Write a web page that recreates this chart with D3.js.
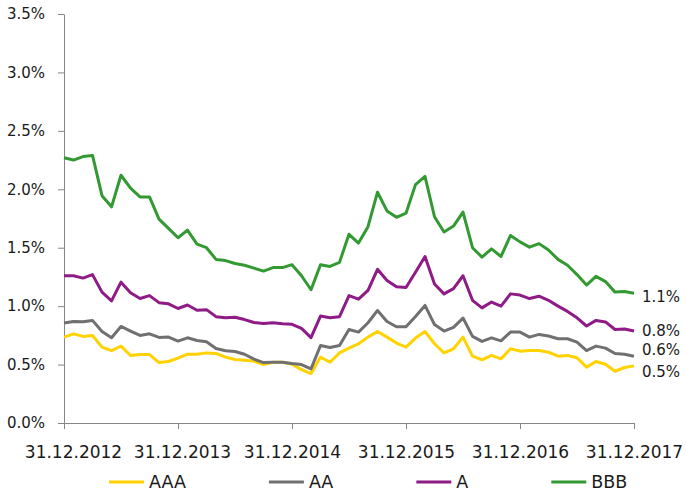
<!DOCTYPE html>
<html>
<head>
<meta charset="utf-8">
<script src="https://cdn.jsdelivr.net/npm/d3@7"></script>
<style>
  body { margin: 0; background: #fff; }
  text { font-family: "DejaVu Sans", Verdana, sans-serif; fill: #1a1a1a; }
</style>
</head>
<body>
<div id="chart"></div>
<script>
// monthly values, 31.12.2012 .. 31.12.2017 (61 points), in %
var seriesNames = ["AAA", "AA", "A", "BBB"];
var seriesColors = ["#ffd200", "#707070", "#8e1b86", "#339933"];

var aaa = [0.735, 0.763, 0.741, 0.749, 0.649, 0.62, 0.658, 0.578, 0.586, 0.586, 0.517, 0.526, 0.555,
  0.589, 0.589, 0.60, 0.595, 0.564, 0.543, 0.536, 0.53, 0.50, 0.52, 0.52, 0.503,
  0.457, 0.423, 0.564, 0.52, 0.60, 0.641, 0.678, 0.735, 0.783, 0.735, 0.684, 0.649,
  0.727, 0.783, 0.678, 0.60, 0.635, 0.735, 0.572, 0.54, 0.578, 0.549, 0.635, 0.615,
  0.62, 0.62, 0.606, 0.572, 0.578, 0.558, 0.478, 0.526, 0.503, 0.443, 0.475, 0.489];

var aa = [0.855, 0.869, 0.866, 0.878, 0.783, 0.729, 0.826, 0.787, 0.749, 0.763, 0.732, 0.735, 0.701,
  0.729, 0.706, 0.695, 0.638, 0.618, 0.612, 0.588, 0.546, 0.517, 0.52, 0.52, 0.509,
  0.50, 0.463, 0.663, 0.646, 0.663, 0.80, 0.778, 0.858, 0.963, 0.869, 0.824, 0.824,
  0.912, 1.006, 0.842, 0.787, 0.818, 0.898, 0.741, 0.698, 0.729, 0.703, 0.778, 0.778,
  0.735, 0.758, 0.744, 0.721, 0.721, 0.692, 0.62, 0.658, 0.641, 0.595, 0.589, 0.572];

var a = [1.26, 1.26, 1.24, 1.27, 1.12, 1.045, 1.205, 1.115, 1.065, 1.09, 1.03, 1.02, 0.98,
  1.01, 0.965, 0.97, 0.91, 0.90, 0.905, 0.885, 0.86, 0.852, 0.858, 0.85, 0.845,
  0.81, 0.73, 0.915, 0.90, 0.91, 1.09, 1.06, 1.135, 1.315, 1.22, 1.165, 1.16,
  1.29, 1.425, 1.19, 1.105, 1.15, 1.26, 1.05, 0.985, 1.035, 1.0, 1.105, 1.095,
  1.065, 1.085, 1.05, 1.0, 0.955, 0.90, 0.83, 0.878, 0.865, 0.80, 0.805, 0.787];

var bbb = [2.27, 2.25, 2.28, 2.29, 1.945, 1.85, 2.12, 2.01, 1.935, 1.935, 1.745, 1.665, 1.585,
  1.65, 1.53, 1.50, 1.40, 1.39, 1.365, 1.35, 1.325, 1.30, 1.33, 1.33, 1.355,
  1.26, 1.14, 1.355, 1.34, 1.375, 1.615, 1.54, 1.68, 1.975, 1.815, 1.76, 1.795,
  2.04, 2.11, 1.765, 1.635, 1.685, 1.805, 1.50, 1.42, 1.49, 1.425, 1.605, 1.55,
  1.505, 1.535, 1.48, 1.40, 1.35, 1.27, 1.18, 1.255, 1.21, 1.12, 1.125, 1.11];

var allSeries = [aaa, aa, a, bbb];

var xTickIndex = [0, 12, 24, 36, 48, 60];
var xTickLabels = ["31.12.2012", "31.12.2013", "31.12.2014", "31.12.2015", "31.12.2016", "31.12.2017"];
var yTicks = [0, 0.5, 1.0, 1.5, 2.0, 2.5, 3.0, 3.5];
var endLabels = ["0.5%", "0.6%", "0.8%", "1.1%"];

// Set up the SVG area
var svgWidth = 686;
var svgHeight = 495;
var margin = { top: 14, right: 52, bottom: 72, left: 64 };
var chartWidth = svgWidth - margin.left - margin.right;
var chartHeight = svgHeight - margin.top - margin.bottom;

var svg = d3.select("#chart")
  .append("svg")
  .attr("width", svgWidth)
  .attr("height", svgHeight);

var chartGroup = svg.append("g")
  .attr("transform", `translate(${margin.left}, ${margin.top})`);

var xScale = d3.scaleLinear().domain([0, 60]).range([0, chartWidth]);
var yScale = d3.scaleLinear().domain([0, 3.5]).range([chartHeight, 0]);

// axes
var bottomAxis = d3.axisBottom(xScale)
  .tickValues(xTickIndex)
  .tickFormat((d, i) => xTickLabels[i])
  .tickSizeInner(6).tickSizeOuter(0).tickPadding(17);
var leftAxis = d3.axisLeft(yScale)
  .tickValues(yTicks)
  .tickFormat(d => d3.format(".1f")(d) + "%")
  .tickSizeInner(6).tickSizeOuter(0).tickPadding(13);

var xAxisG = chartGroup.append("g")
  .attr("transform", `translate(0, ${chartHeight})`)
  .call(bottomAxis);
// first labels sit a little right of their ticks in the original
var xLabelShift = [9, 4, 0, 0, 0, 0];
xAxisG.selectAll("text")
  .style("font-size", "17px")
  .attr("dx", (d, i) => xLabelShift[i]);

var yAxisG = chartGroup.append("g").call(leftAxis);
yAxisG.selectAll("text").style("font-size", "15px");

[xAxisG, yAxisG].forEach(g => {
  g.select(".domain").attr("stroke", "#868686");
  g.selectAll(".tick line").attr("stroke", "#868686");
});

// lines
var line = d3.line()
  .x((d, i) => xScale(i))
  .y(d => yScale(d));

allSeries.forEach((s, k) => {
  chartGroup.append("path")
    .datum(s)
    .attr("fill", "none")
    .attr("stroke", seriesColors[k])
    .attr("stroke-width", 3)
    .attr("stroke-linejoin", "round")
    .attr("d", line);
});

// end labels (nudged apart so they don't overlap)
var labelNudge = [6, -6, 0, 3];
allSeries.forEach((s, k) => {
  chartGroup.append("text")
    .attr("x", chartWidth + 8)
    .attr("y", yScale(s[s.length - 1]) + labelNudge[k])
    .attr("dy", "0.35em")
    .style("font-size", "15px")
    .text(endLabels[k]);
});

// legend
var legend = svg.append("g").attr("transform", "translate(109, 482)");
var lx = 0;
seriesNames.forEach((name, k) => {
  var item = legend.append("g").attr("transform", `translate(${lx}, 0)`);
  item.append("line")
    .attr("x1", 0).attr("x2", 35)
    .attr("stroke", seriesColors[k])
    .attr("stroke-width", 3);
  var t = item.append("text")
    .attr("x", 40)
    .attr("dy", "0.35em")
    .style("font-size", "17.5px")
    .text(name);
  lx += 40 + t.node().getComputedTextLength() + 83;
});
</script>
</body>
</html>
